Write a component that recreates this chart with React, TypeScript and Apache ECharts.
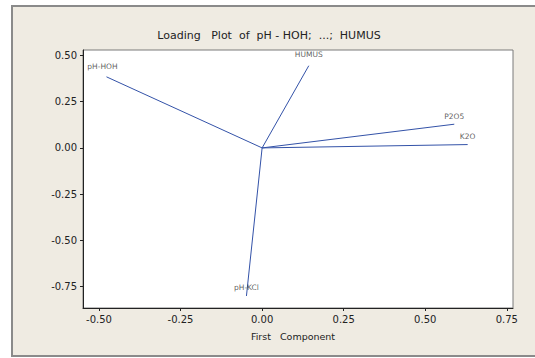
import React, { useEffect, useRef } from "react";
import * as echarts from "echarts";

const variables = ["pH-HOH", "pH-KCl", "P2O5", "K2O", "HUMUS"];
const pc1 = [-0.477, -0.048, 0.589, 0.63, 0.143];
const pc2 = [0.384, -0.8, 0.128, 0.018, 0.444];
const xTicks = [-0.5, -0.25, 0, 0.25, 0.5, 0.75];
const yTicks = [-0.75, -0.5, -0.25, 0, 0.25, 0.5];

const FONT = "DejaVu Sans";

export default function App() {
  const ref = useRef<HTMLDivElement>(null);
  useEffect(() => {
    if (!ref.current) return;
    const chart = echarts.init(ref.current, null, { renderer: "svg" });
    const lineSeries = variables.map((v, i) => ({
      type: "line",
      name: v,
      data: [
        [0, 0],
        [pc1[i], pc2[i]],
      ],
      showSymbol: false,
      symbol: "none",
      lineStyle: { color: "#3352a8", width: 1 },
      silent: true,
      z: 3,
    }));
    const baseLabel = {
      show: true,
      position: "top",
      distance: 4,
      fontFamily: FONT,
      fontSize: 7.5,
      color: "#333333",
      textBorderWidth: 0,
    };
    chart.setOption({
      animation: false,
      backgroundColor: "transparent",
      title: {
        text: "Loading   Plot  of  pH - HOH;  ...;  HUMUS",
        left: 264,
        textAlign: "center",
        top: 25,
        textStyle: { fontFamily: FONT, fontSize: 11, fontWeight: "normal", color: "#222" },
      },
      grid: {
        left: 83,
        top: 50,
        width: 430,
        height: 258,
        show: true,
        backgroundColor: "#ffffff",
        borderColor: "#7a7a7a",
        borderWidth: 1,
      },
      xAxis: {
        type: "value",
        min: -0.549,
        max: 0.769,
        name: "First   Component",
        nameLocation: "middle",
        nameGap: 23,
        nameTextStyle: { fontFamily: FONT, fontSize: 9.5, color: "#222", padding: [0, 10, 0, 0] },
        axisLine: { show: true, onZero: false, lineStyle: { color: "#222", width: 1 } },
        axisTick: { show: true, customValues: xTicks, length: 3, lineStyle: { color: "#222" } },
        axisLabel: {
          customValues: xTicks,
          formatter: (v: number) => v.toFixed(2),
          fontFamily: FONT,
          fontSize: 10,
          color: "#222",
          margin: 6,
        },
        splitLine: { show: false },
      },
      yAxis: {
        type: "value",
        min: -0.865,
        max: 0.529,
        axisLine: { show: true, onZero: false, lineStyle: { color: "#222", width: 1 } },
        axisTick: { show: true, customValues: yTicks, length: 3, lineStyle: { color: "#222" } },
        axisLabel: {
          customValues: yTicks,
          formatter: (v: number) => v.toFixed(2),
          fontFamily: FONT,
          fontSize: 10,
          color: "#222",
          margin: 6,
        },
        splitLine: { show: false },
      },
      series: [
        ...lineSeries,
        {
          type: "scatter",
          symbolSize: 0.1,
          silent: true,
          z: 4,
          itemStyle: { color: "#3352a8" },
          data: variables.map((v, i) => ({
            name: v,
            value: [pc1[i], pc2[i]],
            label:
              i === 0
                ? { ...baseLabel, formatter: v, offset: [-4, -2] }
                : i === 4
                ? { ...baseLabel, formatter: v, distance: 7 }
                : { ...baseLabel, formatter: v },
          })),
          label: baseLabel,
        },
      ],
    });
    return () => chart.dispose();
  }, []);
  return (
    <div style={{ position: "absolute", left: 0, top: 0, width: 535, height: 358, background: "#fff", overflow: "hidden" }}>
      <div
        style={{
          position: "absolute",
          left: 11,
          top: 5,
          width: 540,
          height: 348,
          background: "#efebe2",
          borderLeft: "2px solid #8a8a8a",
          borderTop: "2px solid #8a8a8a",
          borderBottom: "2px solid #8a8a8a",
        }}
      />
      <div ref={ref} style={{ position: "absolute", left: 0, top: 0, width: 535, height: 358 }} />
    </div>
  );
}
